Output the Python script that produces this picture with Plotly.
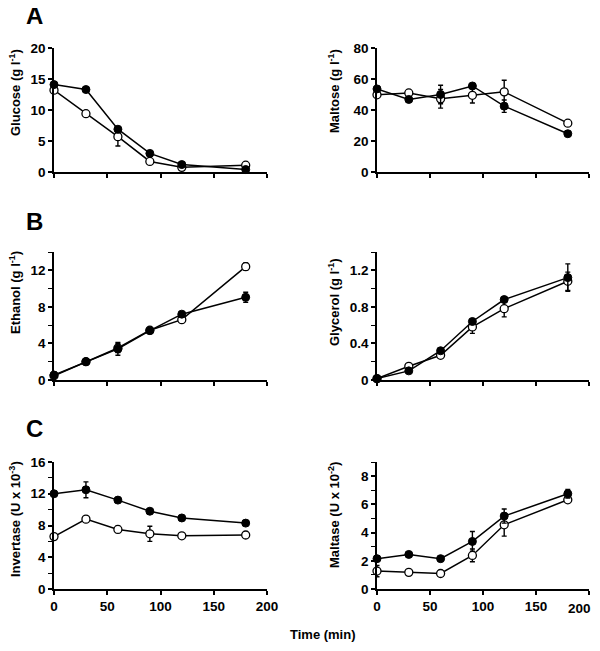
import plotly.graph_objects as go

# ---------------- data ----------------
time_min = [0, 30, 60, 90, 120, 180]
x_tick_vals = [0, 50, 100, 150, 200]
x_tick_text = ["0", "50", "100", "150", "200"]

glucose_filled = [14.1, 13.3, 6.9, 3.0, 1.2, 0.4]
glucose_filled_err = [0, 0, 0, 0, 0, 0]
glucose_open = [13.2, 9.4, 5.7, 1.7, 0.75, 1.1]
glucose_open_err = [0, 0, 1.5, 0, 0, 0]

maltose_filled = [53.6, 46.8, 50.0, 55.5, 42.5, 24.7]
maltose_filled_err = [0, 0, 6.0, 0, 4.0, 0]
maltose_open = [49.8, 51.0, 47.2, 49.5, 51.7, 31.5]
maltose_open_err = [0, 0, 6.0, 5.0, 7.5, 0]

ethanol_filled = [0.55, 2.0, 3.4, 5.4, 7.2, 9.05]
ethanol_filled_err = [0, 0, 0.7, 0, 0, 0.55]
ethanol_open = [0.47, 2.0, 3.5, 5.45, 6.6, 12.4]
ethanol_open_err = [0, 0, 0.5, 0, 0, 0.4]

glycerol_filled = [0.015, 0.1, 0.32, 0.64, 0.88, 1.12]
glycerol_filled_err = [0, 0, 0, 0, 0, 0.15]
glycerol_open = [0.015, 0.15, 0.27, 0.58, 0.78, 1.08]
glycerol_open_err = [0, 0, 0, 0.07, 0.09, 0.1]

invertase_filled = [12.0, 12.5, 11.2, 9.8, 8.95, 8.3]
invertase_filled_err = [0, 1.0, 0, 0, 0, 0]
invertase_open = [6.6, 8.8, 7.5, 6.95, 6.7, 6.8]
invertase_open_err = [0, 0, 0.4, 0.95, 0, 0]

maltase_filled = [2.15, 2.45, 2.15, 3.37, 5.17, 6.75]
maltase_filled_err = [0, 0, 0, 0.7, 0.5, 0.3]
maltase_open = [1.27, 1.18, 1.1, 2.38, 4.55, 6.32]
maltase_open_err = [0.4, 0, 0, 0.45, 0.8, 0]

y_titles = ["Glucose (g l<sup>-1</sup>)", "Maltose (g l<sup>-1</sup>)",
            "Ethanol (g l<sup>-1</sup>)", "Glycerol (g l<sup>-1</sup>)",
            "Invertase (U x 10<sup>-3</sup>)", "Maltase (U x 10<sup>-2</sup>)"]
panel_letters = ["A", "B", "C"]
x_title = "Time (min)"

# ---------------- layout helpers ----------------
PAGE_W, PAGE_H = 600, 651
OFF = 8  # default page body margin
W, H = PAGE_W - OFF, PAGE_H - OFF
FONT = "Liberation Sans, Arial, Helvetica, sans-serif"
TICKFONT = dict(family=FONT, size=13.5, color="black", weight="bold")

def px_x(p):
    return (p - OFF) / W

def px_y(p):
    return 1 - (p - OFF) / H

# panel pixel boxes (page pixels): (left, right, top, bottom)
boxes = [
    (54, 267, 48, 172), (377, 589, 48, 172),
    (54, 267, 252, 380), (377, 589, 252, 380),
    (54, 267, 462, 589), (377, 589, 462, 589),
]
yranges = [(0, 20, 5, None), (0, 80, 20, None),
           (0, 14, 4, 2), (0, 1.4, 0.4, 0.2),
           (0, 16, 4, 2), (0, 9, 2, 1)]
title_centers = [(15, 93), (334, 91), (15, 293), (334, 302), (15, 519), (334, 515)]

panels = [
    (glucose_filled, glucose_filled_err, glucose_open, glucose_open_err),
    (maltose_filled, maltose_filled_err, maltose_open, maltose_open_err),
    (ethanol_filled, ethanol_filled_err, ethanol_open, ethanol_open_err),
    (glycerol_filled, glycerol_filled_err, glycerol_open, glycerol_open_err),
    (invertase_filled, invertase_filled_err, invertase_open, invertase_open_err),
    (maltase_filled, maltase_filled_err, maltase_open, maltase_open_err),
]

fig = go.Figure()
annotations = []

for i, (filled, ferr, opn, oerr) in enumerate(panels):
    n = "" if i == 0 else str(i + 1)
    xa, ya = "x" + n, "y" + n
    # open series first, filled on top
    fig.add_trace(go.Scatter(
        x=time_min, y=opn, xaxis=xa, yaxis=ya, mode="lines+markers",
        line=dict(color="black", width=1.5),
        marker=dict(symbol="circle", size=8, color="white",
                    line=dict(color="black", width=1.3)),
        error_y=dict(type="data", array=oerr, visible=True, color="black",
                     thickness=1.4, width=2.5),
        cliponaxis=False, showlegend=False))
    fig.add_trace(go.Scatter(
        x=time_min, y=filled, xaxis=xa, yaxis=ya, mode="lines+markers",
        line=dict(color="black", width=1.5),
        marker=dict(symbol="circle", size=8, color="black",
                    line=dict(color="black", width=1)),
        error_y=dict(type="data", array=ferr, visible=True, color="black",
                     thickness=1.4, width=2.5),
        cliponaxis=False, showlegend=False))

    l, r, t, b = boxes[i]
    y0, y1, dt, mdt = yranges[i]
    xkey = "xaxis" + n
    ykey = "yaxis" + n
    bottom_row = i >= 4
    ttext = list(x_tick_text)
    if i == 5:
        # last label sits at the image edge: drawn separately, nudged left
        ttext[-1] = ""
        annotations.append(dict(
            text=x_tick_text[-1], x=x_tick_vals[-1], y=0, xref=xa, yref=ya,
            xanchor="center", yanchor="middle", xshift=-10, yshift=-19,
            showarrow=False, font=TICKFONT))
    fig.layout[xkey] = dict(
        domain=[px_x(l), px_x(r)], anchor=ya, range=[0, 200],
        tickmode="array", tickvals=x_tick_vals, ticktext=ttext,
        automargin=False, ticklabeloverflow="allow",
        showticklabels=bottom_row, ticks="outside", ticklen=4, tickwidth=1.5,
        tickcolor="black", showline=True, linecolor="black", linewidth=1.6,
        showgrid=False, zeroline=False, fixedrange=True,
        tickfont=TICKFONT,
    )
    yax = dict(
        domain=[px_y(b), px_y(t)], anchor=xa, range=[y0, y1],
        tickmode="linear", tick0=0, dtick=dt, automargin=False,
        ticklabeloverflow="allow",
        ticks="outside", ticklen=4, tickwidth=1.5, tickcolor="black",
        showline=True, linecolor="black", linewidth=1.6,
        showgrid=False, zeroline=False, fixedrange=True,
        tickfont=TICKFONT,
    )
    if mdt is not None:
        yax["minor"] = dict(ticks="outside", ticklen=4, tickwidth=1.2,
                            tickcolor="black", dtick=mdt, tick0=0, showgrid=False)
    fig.layout[ykey] = yax

    cx, cy = title_centers[i]
    annotations.append(dict(
        text=y_titles[i], x=px_x(cx), y=px_y(cy), xref="paper", yref="paper",
        xanchor="center", yanchor="middle", textangle=-90, showarrow=False,
        font=dict(family=FONT, size=13, color="black", weight="bold")))

for letter, cy in zip(panel_letters, [15.5, 221, 428]):
    annotations.append(dict(
        text=letter, x=px_x(34), y=px_y(cy), xref="paper", yref="paper",
        xanchor="center", yanchor="middle", showarrow=False,
        font=dict(family=FONT, size=24, color="black", weight="bold")))

annotations.append(dict(
    text=x_title, x=px_x(323), y=px_y(634), xref="paper", yref="paper",
    xanchor="center", yanchor="middle", showarrow=False,
    font=dict(family=FONT, size=13, color="black", weight="bold")))

fig.update_layout(
    template="none",
    width=W, height=H, margin=dict(l=0, r=0, t=0, b=0, autoexpand=False),
    paper_bgcolor="white", plot_bgcolor="white",
    annotations=annotations, showlegend=False,
)

fig.write_html("out.html")
